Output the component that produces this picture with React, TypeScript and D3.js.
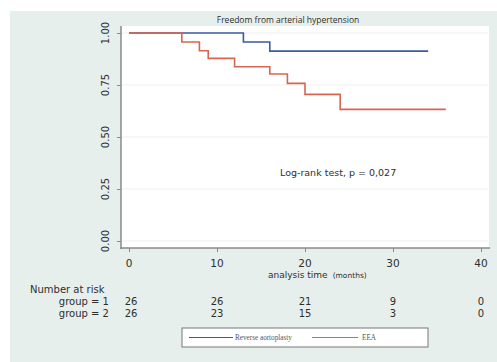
import * as d3 from "d3";
import React, { useRef, useEffect } from "react";

const W = 497;
const H = 362;

// Kaplan-Meier steps
const group1Times = [0, 13, 16, 34];
const group1Surv = [1, 0.957, 0.913, 0.913];
const group2Times = [0, 6, 8, 9, 12, 16, 18, 20, 24, 36];
const group2Surv = [1, 0.957, 0.915, 0.878, 0.838, 0.803, 0.758, 0.705, 0.633, 0.633];

const xTicks = [0, 10, 20, 30, 40];
const yTicks = [0, 0.25, 0.5, 0.75, 1];
const yTickLabels = ["0.00", "0.25", "0.50", "0.75", "1.00"];

const riskTimes = [0, 10, 20, 30, 40];
const riskGroup1 = [26, 26, 21, 9, 0];
const riskGroup2 = [26, 23, 15, 3, 0];

const seriesNames = ["Reverse aortoplasty", "EEA"];
const seriesColors = ["#3b5b9c", "#d8654f"];

function App() {
  const ref = useRef<SVGSVGElement>(null);

  useEffect(() => {
    const svg = d3.select(ref.current);
    svg.selectAll("*").remove();

    const x = d3.scaleLinear().domain([0, 40]).range([129, 481]);
    const y = d3.scaleLinear().domain([0, 1]).range([241, 33]);
    const font = "DejaVu Sans, Verdana, sans-serif";
    const ink = "#2e2e2e";

    // outer background
    svg.append("rect").attr("width", W).attr("height", H).attr("fill", "#ffffff");
    svg.append("rect").attr("x", 10).attr("y", 11).attr("width", W - 10).attr("height", H - 11).attr("fill", "#e7efed");

    // plot region
    svg.append("rect").attr("x", 121).attr("y", 26).attr("width", 368).attr("height", 222).attr("fill", "#ffffff");

    // faint gridlines
    svg.append("g")
      .selectAll("line")
      .data(yTicks)
      .join("line")
      .attr("x1", 122)
      .attr("x2", 488)
      .attr("y1", (d) => y(d))
      .attr("y2", (d) => y(d))
      .attr("stroke", "#edf1f1")
      .attr("stroke-width", 1);

    // y axis
    const yAxis = svg.append("g").attr("transform", "translate(121,0)")
      .call(d3.axisLeft(y).tickValues(yTicks).tickSize(4));
    yAxis.select(".domain").remove();
    yAxis.selectAll("line").attr("stroke", "#8a8a8a");
    yAxis.selectAll("text").remove();
    svg.append("line").attr("x1", 121).attr("x2", 121).attr("y1", 26).attr("y2", 249).attr("stroke", "#8a8a8a").attr("stroke-width", 1.5);

    svg.append("g")
      .selectAll("text")
      .data(yTicks)
      .join("text")
      .attr("transform", (d) => `translate(109,${y(d)}) rotate(-90)`)
      .attr("text-anchor", "middle")
      .attr("font-family", font)
      .attr("font-size", 10)
      .attr("fill", ink)
      .text((_, i) => yTickLabels[i]);

    // x axis
    const xAxis = svg.append("g").attr("transform", "translate(0,248)")
      .call(d3.axisBottom(x).tickValues(xTicks).tickSize(4));
    xAxis.select(".domain").remove();
    xAxis.selectAll("line").attr("stroke", "#8a8a8a");
    xAxis.selectAll("text").remove();
    svg.append("line").attr("x1", 120).attr("x2", 490).attr("y1", 248).attr("y2", 248).attr("stroke", "#8a8a8a").attr("stroke-width", 1.5);

    svg.append("g")
      .selectAll("text")
      .data(xTicks)
      .join("text")
      .attr("x", (d) => x(d))
      .attr("y", 267)
      .attr("text-anchor", "middle")
      .attr("font-family", font)
      .attr("font-size", 10.5)
      .attr("fill", ink)
      .text((d) => d);

    svg.append("text")
      .attr("x", 268)
      .attr("y", 278)
      .attr("font-family", font)
      .attr("font-size", 9)
      .attr("fill", ink)
      .text("analysis time")
      .append("tspan")
      .attr("font-size", 7.5)
      .attr("dx", 5)
      .text("(months)");

    // title
    svg.append("text")
      .attr("x", 288)
      .attr("y", 23)
      .attr("text-anchor", "middle")
      .attr("font-family", "Open Sans, sans-serif")
      .attr("font-size", 8.5)
      .attr("fill", ink)
      .text("Freedom from arterial hypertension");

    // curves
    const line = d3.line<[number, number]>()
      .x((d) => x(d[0]))
      .y((d) => y(d[1]))
      .curve(d3.curveStepAfter);

    const series = [
      group1Times.map((t, i) => [t, group1Surv[i]] as [number, number]),
      group2Times.map((t, i) => [t, group2Surv[i]] as [number, number]),
    ];
    svg.append("g")
      .selectAll("path")
      .data(series)
      .join("path")
      .attr("d", (d) => line(d))
      .attr("fill", "none")
      .attr("stroke", (_, i) => seriesColors[i])
      .attr("stroke-width", 1.6);

    // annotation
    svg.append("text")
      .attr("x", 280)
      .attr("y", 176)
      .attr("font-family", font)
      .attr("font-size", 9.5)
      .attr("fill", ink)
      .text("Log-rank test, p = 0,027");

    // number at risk table
    svg.append("text")
      .attr("x", 30)
      .attr("y", 293)
      .attr("font-family", font)
      .attr("font-size", 10)
      .attr("fill", ink)
      .text("Number at risk");

    const rows = [riskGroup1, riskGroup2];
    rows.forEach((row, r) => {
      const yy = 305 + r * 11.5;
      svg.append("text")
        .attr("x", 109)
        .attr("y", yy)
        .attr("text-anchor", "end")
        .attr("font-family", font)
        .attr("font-size", 10)
        .attr("fill", ink)
        .text(`group = ${r + 1}`);
      svg.append("g")
        .selectAll("text")
        .data(row)
        .join("text")
        .attr("x", (_, i) => x(riskTimes[i]) + (i === 0 ? 2 : 0))
        .attr("y", yy)
        .attr("text-anchor", "middle")
        .attr("font-family", font)
        .attr("font-size", 10)
        .attr("fill", ink)
        .text((d) => d);
    });

    // legend
    const lg = svg.append("g");
    lg.append("rect").attr("x", 182).attr("y", 328).attr("width", 246).attr("height", 19)
      .attr("fill", "#ffffff").attr("stroke", "#777").attr("stroke-width", 1);
    const items = [
      { x1: 189, x2: 233, tx: 235 },
      { x1: 312, x2: 358, tx: 362 },
    ];
    items.forEach((it, i) => {
      lg.append("line").attr("x1", it.x1).attr("x2", it.x2).attr("y1", 337.5).attr("y2", 337.5)
        .attr("stroke", seriesColors[i]).attr("stroke-width", 1.2);
      lg.append("text").attr("x", it.tx).attr("y", 340).attr("font-family", "Liberation Serif, serif")
        .attr("font-size", 7.2).attr("fill", "#555").text(seriesNames[i]);
    });
  }, []);

  return (
    <div style={{ position: "absolute", left: 0, top: 0 }}>
      <svg ref={ref} width={W} height={H}></svg>
    </div>
  );
}

export default App;
